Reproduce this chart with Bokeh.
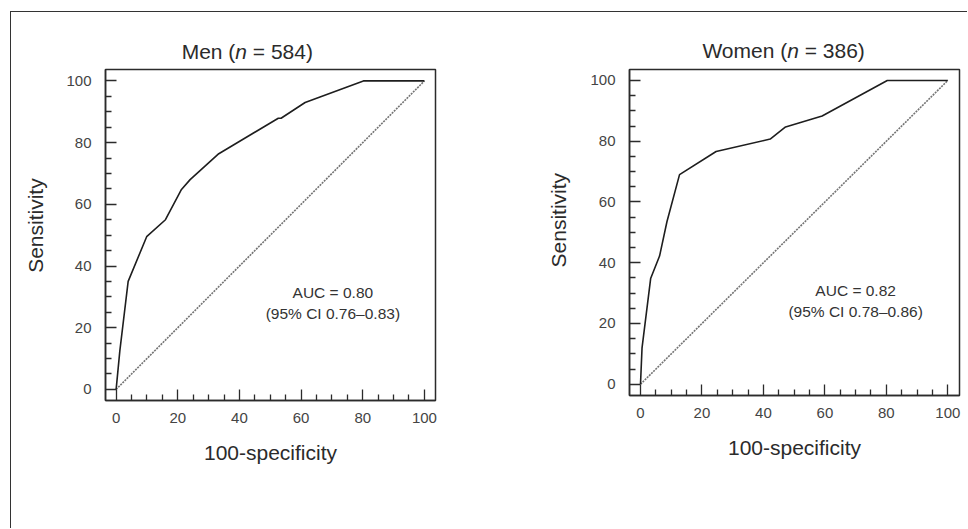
import math
from bokeh.plotting import figure
from bokeh.models import Range1d, FixedTicker, Label
from bokeh.layouts import row
from bokeh.embed import file_html
from bokeh.resources import INLINE

# ---- data ----
men_fpr = [0, 1.2, 3.9, 9.9, 16.0, 21.2, 24.0, 33.3, 52.6, 53.5, 61.3, 80.2, 100]
men_tpr = [0, 12.5, 35.0, 49.5, 55.0, 64.8, 68.0, 76.4, 87.9, 87.9, 93.0, 100, 100]
women_fpr = [0, 0.5, 3.3, 6.2, 8.6, 12.7, 24.6, 42.2, 47.2, 59.1, 80.3, 100]
women_tpr = [0, 12.0, 34.8, 42.2, 53.5, 69.0, 76.6, 80.7, 84.7, 88.3, 100, 100]
chance = [0, 100]
major_ticks = [0, 20, 40, 60, 80, 100]
minor_ticks = [5, 10, 15, 25, 30, 35, 45, 50, 55, 65, 70, 75, 85, 90, 95]
titles = [("Men (", "n", "= 584)"), ("Women (", "n", "= 386)")]
auc_texts = [("AUC = 0.80", "(95% CI 0.76\u20130.83)"),
             ("AUC = 0.82", "(95% CI 0.78\u20130.86)")]
x_title = "100-specificity"
y_title = "Sensitivity"

FONT = "Liberation Sans"
DARK = "#2b2b2b"


def make_plot(fpr, tpr, title, auc, xr, yr, fw, fh, mbl, mbr, mbt, mbb,
              tpos, auc_pos, ylab_pos, n_side):
    p = figure(frame_width=fw, frame_height=fh,
               x_range=Range1d(*xr), y_range=Range1d(*yr),
               min_border_left=mbl, min_border_right=mbr,
               min_border_top=mbt, min_border_bottom=mbb,
               output_backend="svg", toolbar_location=None, title=None)
    p.grid.visible = False
    p.outline_line_color = DARK
    p.outline_line_width = 1.5
    p.outline_line_alpha = 1
    p.background_fill_color = "white"
    p.border_fill_color = "white"

    for ax in (p.xaxis[0], p.yaxis[0]):
        ax.ticker = FixedTicker(ticks=major_ticks, minor_ticks=minor_ticks)
        ax.major_tick_in = 11
        ax.major_tick_out = 0
        ax.minor_tick_in = 6
        ax.minor_tick_out = 0
        ax.major_tick_line_color = DARK
        ax.minor_tick_line_color = DARK
        ax.major_tick_line_width = 1.3
        ax.minor_tick_line_width = 1.3
        ax.axis_line_color = DARK
        ax.axis_line_width = 1.5
        ax.major_label_text_font = FONT
        ax.major_label_text_font_size = "15px"
        ax.major_label_text_color = "#444444"
        ax.axis_label_text_font = FONT
        ax.axis_label_text_font_size = "21px"
        ax.axis_label_text_font_style = "normal"
        ax.axis_label_text_color = DARK
    p.xaxis[0].axis_label = x_title
    p.xaxis[0].major_label_standoff = 12
    p.xaxis[0].axis_label_standoff = 15
    p.yaxis[0].major_label_standoff = 14

    # chance diagonal
    p.line(chance, chance, line_color="#747474", line_width=1.6,
           line_dash="2 1")
    # ROC curve
    p.line(fpr, tpr, line_color="#1e1e1e", line_width=1.6)

    # title with italic n (labels placed in side panels so they are not
    # clipped to the plot frame; their position is in data units)
    xa, xc, ty = tpos
    p.add_layout(Label(x=xa, y=ty, text=title[0], text_align="right",
                       text_baseline="alphabetic", text_font=FONT,
                       text_font_size="21px", text_color=DARK), "above")
    p.add_layout(Label(x=xa, y=ty, text=title[1], text_align="left",
                       text_baseline="alphabetic", text_font=FONT,
                       text_font_style="italic",
                       text_font_size="21px", text_color=DARK), n_side)
    p.add_layout(Label(x=xc, y=ty, text=title[2], text_align="left",
                       text_baseline="alphabetic", text_font=FONT,
                       text_font_size="21px", text_color=DARK), "below")

    # y axis title (placed slightly above the frame centre, as in reference)
    lx, ly = ylab_pos
    p.add_layout(Label(x=lx, y=ly, text=y_title, angle=math.pi / 2,
                       text_align="center", text_baseline="middle",
                       text_font=FONT, text_font_size="21px",
                       text_color=DARK), "left")

    ax_, ay1, ay2 = auc_pos
    p.add_layout(Label(x=ax_, y=ay1, text=auc[0], text_align="center",
                       text_baseline="middle", text_font=FONT,
                       text_font_size="15.5px", text_color="#333333"))
    p.add_layout(Label(x=ax_, y=ay2, text=auc[1], text_align="center",
                       text_baseline="middle", text_font=FONT,
                       text_font_size="15.5px", text_color="#333333"))
    return p


p1 = make_plot(men_fpr, men_tpr, titles[0], auc_texts[0],
               (-3.45, 103.6), (-3.6, 103.7), 330, 331, 94, 49, 57, 128,
               (38.67, 44.34, 109.6), (70.3, 31.4, 24.6), (-26.0, 53.1),
               "right")
p2 = make_plot(women_fpr, women_tpr, titles[1], auc_texts[1],
               (-3.58, 103.8), (-3.7, 103.6), 330, 326, 145, 8, 57, 133,
               (47.74, 53.43, 109.7), (70.0, 30.9, 24.0), (-26.6, 54.0),
               "left")

layout = row(p1, p2, styles={"margin-left": "10px", "margin-top": "11px",
                             "border-left": "1.5px solid #333",
                             "border-top": "1.5px solid #333"})

open("out.html", "w").write(file_html(layout, INLINE))
